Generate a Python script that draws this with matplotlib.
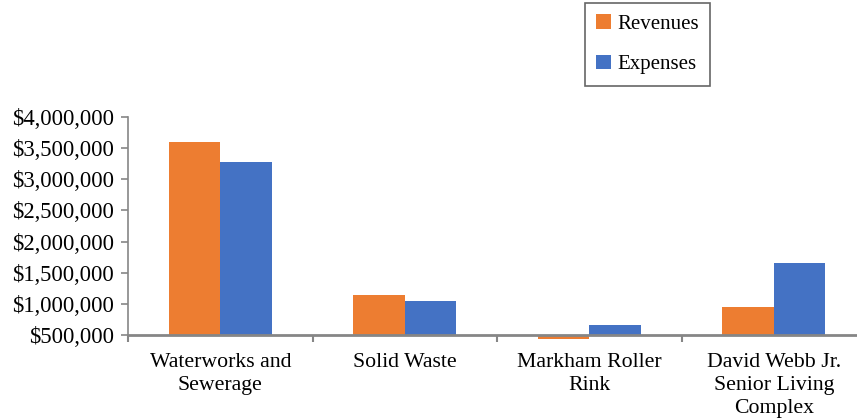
import matplotlib
matplotlib.use("Agg")
import matplotlib.pyplot as plt
import numpy as np
from matplotlib.ticker import FuncFormatter, FixedLocator

categories = ["Waterworks and\nSewerage", "Solid Waste", "Markham Roller\nRink",
              "David Webb Jr.\nSenior Living\nComplex"]
revenues = [3600000, 1145000, 430000, 950000]
expenses = [3275000, 1045000, 660000, 1650000]
series_names = ["Revenues", "Expenses"]
yticks = [500000, 1000000, 1500000, 2000000, 2500000, 3000000, 3500000, 4000000]

plt.rcParams['font.family'] = ['Liberation Serif', 'DejaVu Serif']

fig = plt.figure(figsize=(8.57, 4.18), dpi=100)
ax = fig.add_axes([128/857, (418-335)/418, (866-128)/857, (335-117)/418])

base = 500000
x = np.arange(len(categories))
w = 0.28
orange = "#ED7D31"
blue = "#4472C4"
b1 = ax.bar(x - w/2, np.array(revenues) - base, bottom=base, width=w, color=orange,
            label=series_names[0], clip_on=False, zorder=2)
b2 = ax.bar(x + w/2, np.array(expenses) - base, bottom=base, width=w, color=blue,
            label=series_names[1], clip_on=False, zorder=2)

ax.set_ylim(500000, 4000000)
ax.set_xlim(-0.5, len(categories) - 0.5)
ax.set_yticks(yticks)
ax.yaxis.set_major_formatter(FuncFormatter(lambda v, p: "${:,.0f}".format(v)))

ax.set_xticks(x)
ax.set_xticklabels(categories, fontsize=15.7, linespacing=1.3)
ax.tick_params(axis='x', which='major', length=0, pad=13)
ax.xaxis.set_minor_locator(FixedLocator(np.arange(len(categories) + 1) - 0.5))
ax.tick_params(axis='x', which='minor', length=5, color='#868686', width=1.5, direction='out')
ax.tick_params(axis='y', labelsize=16.3, length=5, color='#868686', width=1.2, pad=5)

for s in ['top', 'right']:
    ax.spines[s].set_visible(False)
ax.spines['left'].set_color('#868686')
ax.spines['left'].set_linewidth(1.2)
ax.spines['bottom'].set_color('#868686')
ax.spines['bottom'].set_linewidth(2)
ax.spines['bottom'].set_zorder(3)

leg = fig.legend(handles=[b1, b2], loc='upper left', bbox_to_anchor=(585/857, 1 - 3/418),
                 fontsize=15, frameon=True, fancybox=False, edgecolor='#404040',
                 handlelength=0.7, handleheight=0.7, handletextpad=0.3,
                 labelspacing=1.0, borderpad=0.55, borderaxespad=0)
leg.get_frame().set_linewidth(1.2)

fig.savefig("out.png", dpi=100)
